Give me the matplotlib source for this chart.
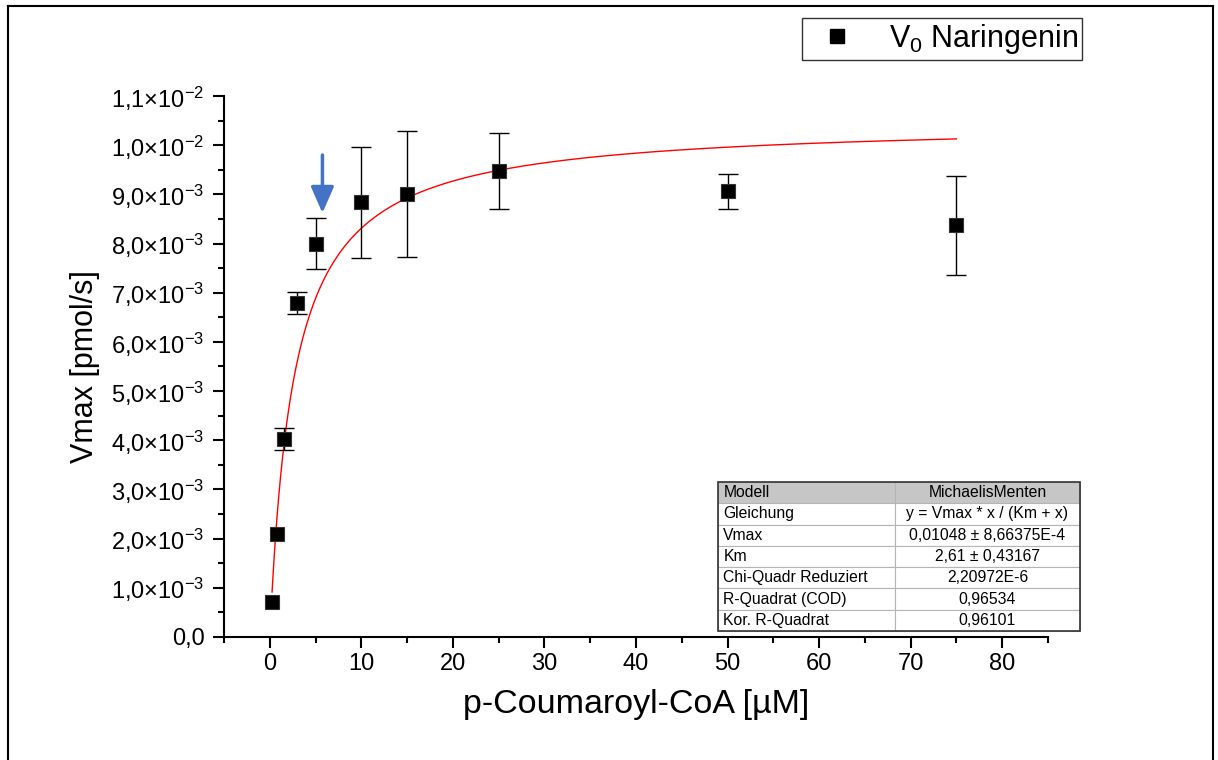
import numpy as np
import matplotlib
matplotlib.use("Agg")
import matplotlib.pyplot as plt
from matplotlib.lines import Line2D
from matplotlib.patches import Rectangle
from matplotlib.ticker import MultipleLocator, FuncFormatter

plt.rcParams["font.family"] = ["Liberation Sans", "DejaVu Sans"]
plt.rcParams["mathtext.fontset"] = "custom"
plt.rcParams["mathtext.rm"] = "Liberation Sans"
plt.rcParams["mathtext.it"] = "Liberation Sans:italic"

# measured data
conc = [0.25, 0.75, 1.5, 3, 5, 10, 15, 25, 50, 75]
v0 = [0.71e-3, 2.09e-3, 4.02e-3, 6.79e-3, 8.00e-3, 8.84e-3, 9.01e-3, 9.47e-3, 9.06e-3, 8.37e-3]
v0_err = [0.0, 0.0, 0.22e-3, 0.23e-3, 0.51e-3, 1.13e-3, 1.28e-3, 0.77e-3, 0.36e-3, 1.0e-3]

# Michaelis-Menten fit parameters (from the fit table)
vmax_fit = 0.01048
km_fit = 2.61

table_labels = ["Modell", "Gleichung", "Vmax", "Km", "Chi-Quadr Reduziert",
                "R-Quadrat (COD)", "Kor. R-Quadrat"]
table_values = ["MichaelisMenten", "y = Vmax * x / (Km + x)", "0,01048 \u00b1 8,66375E-4",
                "2,61 \u00b1 0,43167", "2,20972E-6", "0,96534", "0,96101"]

arrow_x = 5.75
arrow_from = 9.8e-3
arrow_to = 8.62e-3

fig = plt.figure(figsize=(12.18, 7.6), dpi=100)
ax = fig.add_axes([224 / 1218, 1 - 637 / 760, 824 / 1218, 541 / 760])

xf = np.linspace(conc[0], conc[-1], 400)
ax.plot(xf, vmax_fit * xf / (km_fit + xf), color="red", lw=1.0, zorder=2)

# error bars only where a deviation was measured
has_err = [e > 0 for e in v0_err]
ax.errorbar([c for c, h in zip(conc, has_err) if h],
            [v for v, h in zip(v0, has_err) if h],
            yerr=[e for e in v0_err if e > 0], fmt="none", ecolor="black",
            elinewidth=1.0, capsize=7, capthick=1.0, zorder=3)
ax.plot(conc, v0, "s", color="black", ms=10, mec="#333333", mew=0.8, zorder=4)

ax.annotate("", xy=(arrow_x, arrow_to), xytext=(arrow_x, arrow_from),
            arrowprops=dict(arrowstyle="-|>,head_width=0.35,head_length=0.8",
                            color="#4472C4", lw=2.5, mutation_scale=20,
                            shrinkA=0, shrinkB=0), zorder=5)

ax.set_xlim(-5, 85)
ax.set_ylim(0, 1.1e-2)
ax.spines["top"].set_visible(False)
ax.spines["right"].set_visible(False)
for s in ["left", "bottom"]:
    ax.spines[s].set_linewidth(1.5)

ax.xaxis.set_major_locator(MultipleLocator(10))
ax.xaxis.set_minor_locator(MultipleLocator(5))
ax.yaxis.set_major_locator(MultipleLocator(1e-3))
ax.yaxis.set_minor_locator(MultipleLocator(0.5e-3))


def yfmt(v, pos):
    if abs(v) < 1e-12:
        return "0,0"
    exp = int(np.floor(np.log10(abs(v)) + 1e-9))
    mant = v / 10 ** exp
    return ("%.1f" % mant).replace(".", ",") + "\u00d710$^{%d}$" % exp


ax.yaxis.set_major_formatter(FuncFormatter(yfmt))
ax.xaxis.set_major_formatter(FuncFormatter(lambda v, p: "%d" % v))
ax.tick_params(which="major", direction="out", length=8, width=1.5, labelsize=17)
ax.tick_params(axis="y", which="major", pad=6)
ax.tick_params(which="minor", direction="out", length=4.5, width=1.5)

ax.set_xlabel("p-Coumaroyl-CoA [\u00b5M]", fontsize=24.5, labelpad=10)
ax.set_ylabel("Vmax [pmol/s]", fontsize=22, labelpad=8)

leg_handle = [Line2D([], [], marker="s", ls="none", color="black", ms=10)]
fig.legend(leg_handle, ["V$_0$ Naringenin"], loc="center",
           bbox_to_anchor=(942 / 1218, 1 - 39 / 760), fontsize=22, frameon=True,
           fancybox=False, edgecolor="black", borderpad=0.12, handletextpad=0.7,
           handlelength=2.0)

cell_text = [[a, b] for a, b in zip(table_labels, table_values)]
colours = [["#c6c6c6", "#c6c6c6"]] + [["white", "white"]] * (len(table_labels) - 1)
tb = ax.table(cellText=cell_text, cellColours=colours, colWidths=[0.489, 0.511],
              cellLoc="center", bbox=[0.5995, 0.0111, 0.4393, 0.2754], zorder=6)
tb.auto_set_font_size(False)
tb.set_fontsize(11.3)
for (r, c), cell in tb.get_celld().items():
    cell.set_edgecolor("#b4b4b4")
    cell.set_linewidth(0.8)
    if c == 0:
        cell.PAD = 0.03
        cell._loc = "left"
        cell.get_text().set_ha("left")
ax.add_patch(Rectangle((0.5995, 0.0111), 0.4393, 0.2754, transform=ax.transAxes,
                       fill=False, edgecolor="#333333", lw=1.2, zorder=7, clip_on=False))

# figure frame
for xs, ys in [([8 / 1218, 8 / 1218], [0, 1 - 6 / 760]),
               ([8 / 1218, 1213 / 1218], [1 - 6 / 760, 1 - 6 / 760]),
               ([1213 / 1218, 1213 / 1218], [0, 1 - 6 / 760])]:
    fig.add_artist(Line2D(xs, ys, color="black", lw=1.5, transform=fig.transFigure))

fig.savefig("out.png", dpi=100)
